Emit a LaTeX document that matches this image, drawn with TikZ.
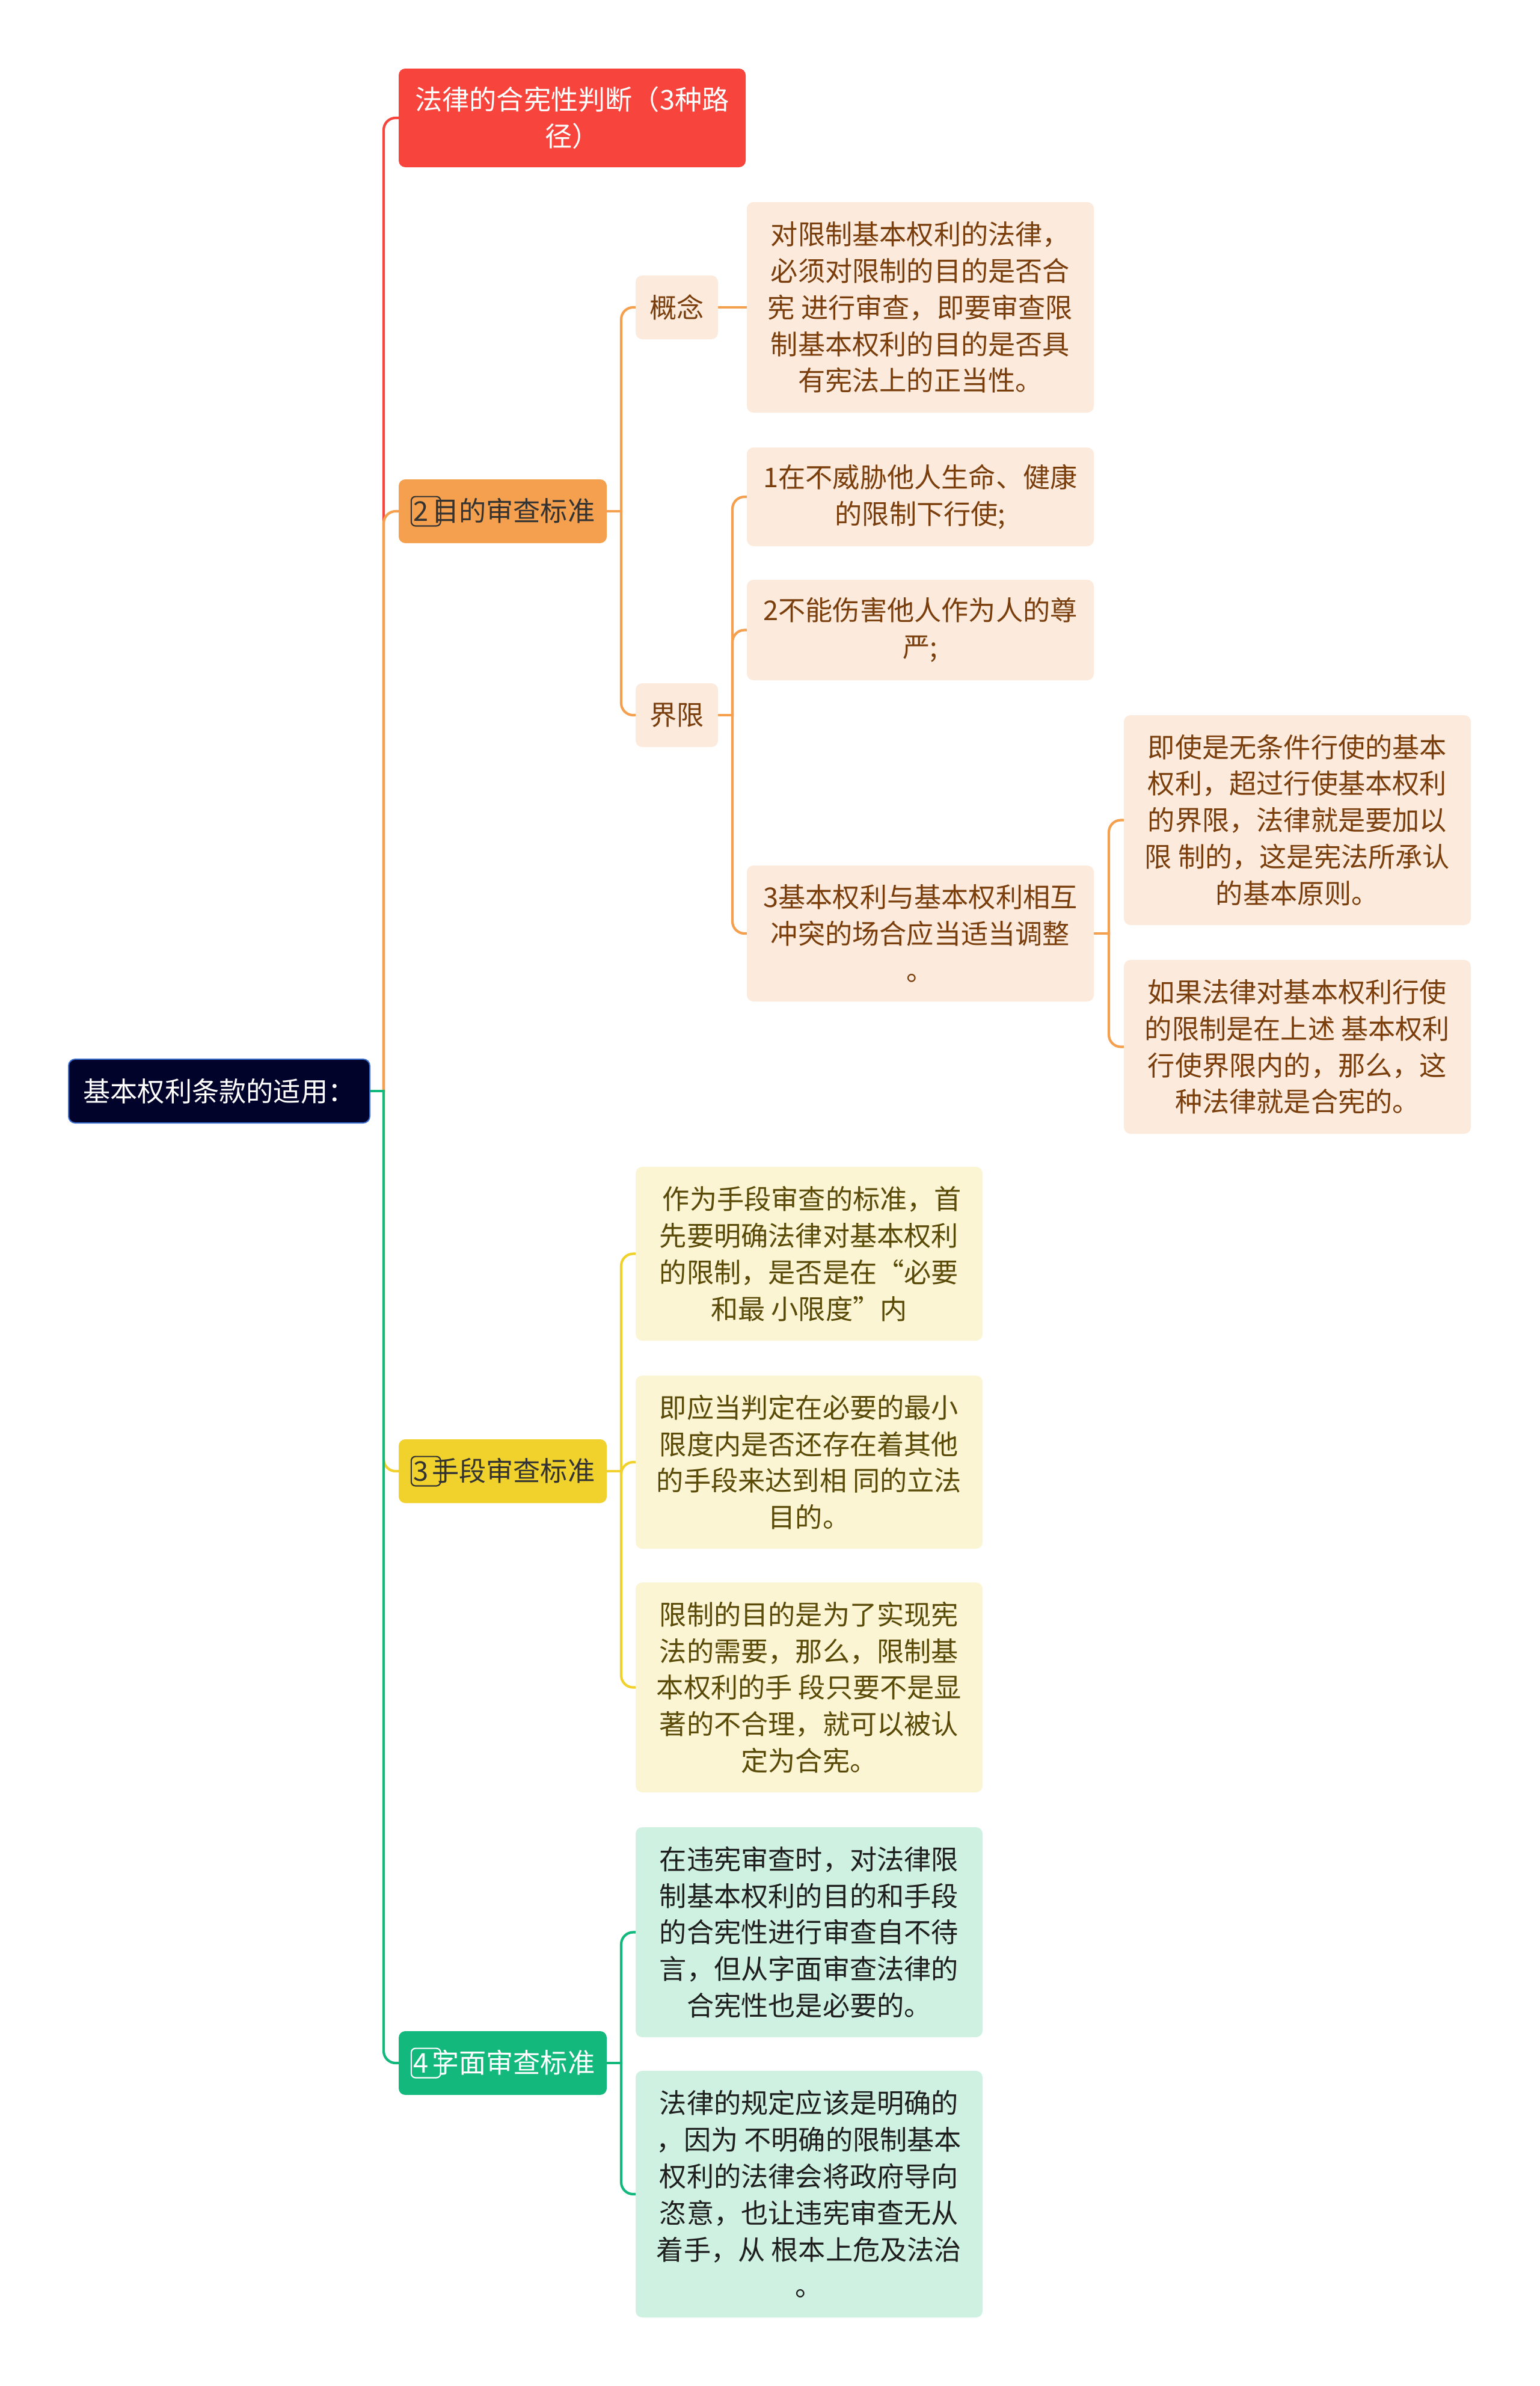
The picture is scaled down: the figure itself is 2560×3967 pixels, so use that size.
\documentclass[tikz,border=0pt]{standalone}
\usepackage{fontspec}
\setmainfont{Noto Sans CJK SC}
\usetikzlibrary{calc}
\definecolor{cred}{HTML}{F7443C}
\definecolor{cor}{HTML}{F5A04E}
\definecolor{cyel}{HTML}{F1D22C}
\definecolor{cgrn}{HTML}{13B97C}
\definecolor{croot}{HTML}{02032A}
\definecolor{crootb}{HTML}{3B6FCF}
\definecolor{fpeach}{HTML}{FCEBDC}
\definecolor{tpeach}{HTML}{7A3D0C}
\definecolor{fyel}{HTML}{FBF5D4}
\definecolor{tyel}{HTML}{5A4A08}
\definecolor{fgrn}{HTML}{CEF1E2}
\definecolor{tgrn}{HTML}{1E1E1E}
\definecolor{tdark}{HTML}{333333}
\pgfdeclarelayer{bg}
\pgfdeclarelayer{edges}
\pgfsetlayers{bg,edges,main}
\newcommand{\cnum}[2]{\makebox[0.78em][l]{\tikz[baseline=(cnb.base)]\node[draw=#2,line width=1.1pt,rounded corners=3.5pt,inner sep=0pt,minimum width=1.08em,minimum height=1.08em,text=#2,fill=none](cnb){\makebox[1em][l]{\hspace{0.04em}#1}};}}
\begin{document}
\begin{tikzpicture}[x=0.5pt,y=-0.5pt,
  box/.style={rounded corners=5.5pt,inner sep=0pt,align=center,font=\fontsize{22.6}{30.4}\selectfont},
  rootbox/.style={box,fill=croot,draw=crootb,line width=1pt,text=white},
  redbox/.style={box,fill=cred,text=white},
  orbox/.style={box,fill=cor,text=tdark},
  yelbox/.style={box,fill=cyel,text=tdark},
  grnbox/.style={box,fill=cgrn,text=white},
  peach/.style={box,fill=fpeach,text=tpeach},
  lyel/.style={box,fill=fyel,text=tyel},
  lgrn/.style={box,fill=fgrn,text=tgrn},
  conn/.style={line width=2.1pt,line cap=rect},
  rc/.style={rounded corners=10pt}]
\useasboundingbox (0,0) rectangle (2560,3967);
\begin{pgfonlayer}{bg}
\fill[white] (0,0) rectangle (2560,3967);
\end{pgfonlayer}

% root and level 1
\node[rootbox,minimum width=250.5pt,minimum height=53pt] (root) at (364.5,1814) {基本权利条款的适用：};
\node[redbox,minimum width=288.5pt,minimum height=82pt] (n1) at (951.5,196) {法律的合宪性判断（3种路\\径）};
\node[orbox,minimum width=173pt,minimum height=53pt] (n2) at (836,850) {\cnum{2}{tdark}目的审查标准};
\node[yelbox,minimum width=173pt,minimum height=53pt] (n3) at (836,2446) {\cnum{3}{tdark}手段审查标准};
\node[grnbox,minimum width=173pt,minimum height=53pt] (n4) at (836,3430) {\cnum{4}{white}字面审查标准};

% branch 2
\node[peach,minimum width=68.5pt,minimum height=53pt] (gn) at (1125.5,511) {概念};
\node[peach,minimum width=68.5pt,minimum height=53pt] (jx) at (1125.5,1189) {界限};
\node[peach,minimum width=288.5pt,minimum height=175pt] (c1) at (1530.5,511) {对限制基本权利的法律，\\必须对限制的目的是否合\\宪 进行审查，即要审查限\\制基本权利的目的是否具\\有宪法上的正当性。};
\node[peach,minimum width=288.5pt,minimum height=82pt] (b1) at (1530.5,826) {1在不威胁他人生命、健康\\的限制下行使;};
\node[peach,minimum width=288.5pt,minimum height=83.5pt] (b2) at (1530.5,1047.5) {2不能伤害他人作为人的尊\\严;};
\node[peach,minimum width=288.5pt,minimum height=113pt] (b3) at (1530.5,1552) {3基本权利与基本权利相互\\冲突的场合应当适当调整\\。};
\node[peach,minimum width=288.5pt,minimum height=174.5pt] (d1) at (2157.5,1363.5) {即使是无条件行使的基本\\权利，超过行使基本权利\\的界限，法律就是要加以\\限 制的，这是宪法所承认\\的基本原则。};
\node[peach,minimum width=288.5pt,minimum height=144.5pt] (d2) at (2157.5,1740.5) {如果法律对基本权利行使\\的限制是在上述 基本权利\\行使界限内的，那么，这\\种法律就是合宪的。};

% branch 3
\node[lyel,minimum width=288.5pt,minimum height=144.5pt] (y1) at (1345.5,2084.5) {\ 作为手段审查的标准，首\\先要明确法律对基本权利\\的限制，是否是在“必要\\和最 小限度”内};
\node[lyel,minimum width=288.5pt,minimum height=144pt] (y2) at (1345.5,2431) {即应当判定在必要的最小\\限度内是否还存在着其他\\的手段来达到相 同的立法\\目的。};
\node[lyel,minimum width=288.5pt,minimum height=174.5pt] (y3) at (1345.5,2805.5) {限制的目的是为了实现宪\\法的需要，那么，限制基\\本权利的手 段只要不是显\\著的不合理，就可以被认\\定为合宪。};

% branch 4
\node[lgrn,minimum width=288.5pt,minimum height=174.5pt] (g1) at (1345.5,3212.5) {在违宪审查时，对法律限\\制基本权利的目的和手段\\的合宪性进行审查自不待\\言，但从字面审查法律的\\合宪性也是必要的。};
\node[lgrn,minimum width=288.5pt,minimum height=205pt] (g2) at (1345.5,3648) {法律的规定应该是明确的\\，因为 不明确的限制基本\\权利的法律会将政府导向\\恣意，也让违宪审查无从\\着手，从 根本上危及法治\\。};

% spines
\coordinate (sR) at (638,1814);
\coordinate (s2) at (1033,850);
\coordinate (s3) at (1218,1189);
\coordinate (s4) at (1844,1552);
\coordinate (s5) at (1033,2446);
\coordinate (s6) at (1033,3430);

\begin{pgfonlayer}{edges}
\draw[conn,cred] (root.east) -- (sR);
\draw[conn,cred,rc] (sR) |- (n1.west);
\draw[conn,cor] (root.east) -- (sR);
\draw[conn,cor,rc] (sR) |- (n2.west);
\draw[conn,cyel] (root.east) -- (sR);
\draw[conn,cyel,rc] (sR) |- (n3.west);
\draw[conn,cgrn] (root.east) -- (sR);
\draw[conn,cgrn,rc] (sR) |- (n4.west);

\draw[conn,cor] (n2.east) -- (s2);
\draw[conn,cor,rc] (s2) |- (gn.west);
\draw[conn,cor,rc] (s2) |- (jx.west);
\draw[conn,cor] (gn.east) -- (c1.west);
\draw[conn,cor] (jx.east) -- (s3);
\draw[conn,cor,rc] (s3) |- (b1.west);
\draw[conn,cor,rc] (s3) |- (b2.west);
\draw[conn,cor,rc] (s3) |- (b3.west);
\draw[conn,cor] (b3.east) -- (s4);
\draw[conn,cor,rc] (s4) |- (d1.west);
\draw[conn,cor,rc] (s4) |- (d2.west);

\draw[conn,cyel] (n3.east) -- (s5);
\draw[conn,cyel,rc] (s5) |- (y1.west);
\draw[conn,cyel,rc] (s5) |- (y2.west);
\draw[conn,cyel,rc] (s5) |- (y3.west);

\draw[conn,cgrn] (n4.east) -- (s6);
\draw[conn,cgrn,rc] (s6) |- (g1.west);
\draw[conn,cgrn,rc] (s6) |- (g2.west);
\end{pgfonlayer}
\end{tikzpicture}
\end{document}
